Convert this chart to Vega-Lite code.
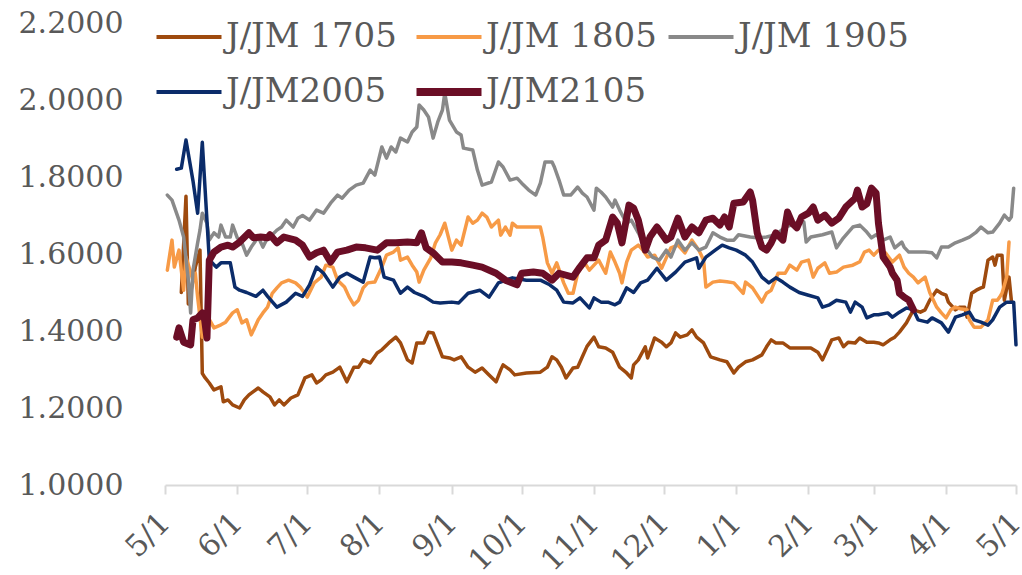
{
  "$schema": "https://vega.github.io/schema/vega-lite/v6.json",
  "width": 851,
  "height": 462,
  "autosize": {"type": "none"},
  "padding": {"left": 165, "top": 23, "right": 6, "bottom": 90},
  "background": "white",
  "config": {"view": {"stroke": null}},
  "data": {"values": [
{"series":"J/JM 1705","date":"2020-05-08","value":1.50},
{"series":"J/JM 1705","date":"2020-05-10","value":1.75},
{"series":"J/JM 1705","date":"2020-05-11","value":1.47},
{"series":"J/JM 1705","date":"2020-05-13","value":1.53},
{"series":"J/JM 1705","date":"2020-05-14","value":1.566},
{"series":"J/JM 1705","date":"2020-05-16","value":1.61},
{"series":"J/JM 1705","date":"2020-05-17","value":1.29},
{"series":"J/JM 1705","date":"2020-05-18","value":1.28},
{"series":"J/JM 1705","date":"2020-05-20","value":1.265},
{"series":"J/JM 1705","date":"2020-05-22","value":1.247},
{"series":"J/JM 1705","date":"2020-05-25","value":1.255},
{"series":"J/JM 1705","date":"2020-05-26","value":1.216},
{"series":"J/JM 1705","date":"2020-05-28","value":1.221},
{"series":"J/JM 1705","date":"2020-05-30","value":1.208},
{"series":"J/JM 1705","date":"2020-06-02","value":1.20},
{"series":"J/JM 1705","date":"2020-06-04","value":1.221},
{"series":"J/JM 1705","date":"2020-06-06","value":1.234},
{"series":"J/JM 1705","date":"2020-06-10","value":1.252},
{"series":"J/JM 1705","date":"2020-06-12","value":1.242},
{"series":"J/JM 1705","date":"2020-06-15","value":1.229},
{"series":"J/JM 1705","date":"2020-06-17","value":1.208},
{"series":"J/JM 1705","date":"2020-06-19","value":1.221},
{"series":"J/JM 1705","date":"2020-06-21","value":1.208},
{"series":"J/JM 1705","date":"2020-06-24","value":1.226},
{"series":"J/JM 1705","date":"2020-06-27","value":1.234},
{"series":"J/JM 1705","date":"2020-06-30","value":1.278},
{"series":"J/JM 1705","date":"2020-07-03","value":1.286},
{"series":"J/JM 1705","date":"2020-07-05","value":1.265},
{"series":"J/JM 1705","date":"2020-07-07","value":1.273},
{"series":"J/JM 1705","date":"2020-07-09","value":1.286},
{"series":"J/JM 1705","date":"2020-07-12","value":1.293},
{"series":"J/JM 1705","date":"2020-07-15","value":1.306},
{"series":"J/JM 1705","date":"2020-07-18","value":1.268},
{"series":"J/JM 1705","date":"2020-07-21","value":1.306},
{"series":"J/JM 1705","date":"2020-07-23","value":1.306},
{"series":"J/JM 1705","date":"2020-07-25","value":1.325},
{"series":"J/JM 1705","date":"2020-07-28","value":1.317},
{"series":"J/JM 1705","date":"2020-07-31","value":1.343},
{"series":"J/JM 1705","date":"2020-08-02","value":1.351},
{"series":"J/JM 1705","date":"2020-08-05","value":1.369},
{"series":"J/JM 1705","date":"2020-08-08","value":1.384},
{"series":"J/JM 1705","date":"2020-08-10","value":1.369},
{"series":"J/JM 1705","date":"2020-08-13","value":1.325},
{"series":"J/JM 1705","date":"2020-08-15","value":1.317},
{"series":"J/JM 1705","date":"2020-08-17","value":1.369},
{"series":"J/JM 1705","date":"2020-08-20","value":1.369},
{"series":"J/JM 1705","date":"2020-08-22","value":1.397},
{"series":"J/JM 1705","date":"2020-08-24","value":1.395},
{"series":"J/JM 1705","date":"2020-08-26","value":1.364},
{"series":"J/JM 1705","date":"2020-08-28","value":1.333},
{"series":"J/JM 1705","date":"2020-08-31","value":1.33},
{"series":"J/JM 1705","date":"2020-09-02","value":1.325},
{"series":"J/JM 1705","date":"2020-09-05","value":1.333},
{"series":"J/JM 1705","date":"2020-09-08","value":1.306},
{"series":"J/JM 1705","date":"2020-09-11","value":1.293},
{"series":"J/JM 1705","date":"2020-09-14","value":1.304},
{"series":"J/JM 1705","date":"2020-09-17","value":1.286},
{"series":"J/JM 1705","date":"2020-09-20","value":1.268},
{"series":"J/JM 1705","date":"2020-09-22","value":1.299},
{"series":"J/JM 1705","date":"2020-09-23","value":1.312},
{"series":"J/JM 1705","date":"2020-09-26","value":1.299},
{"series":"J/JM 1705","date":"2020-09-28","value":1.286},
{"series":"J/JM 1705","date":"2020-10-03","value":1.291},
{"series":"J/JM 1705","date":"2020-10-09","value":1.293},
{"series":"J/JM 1705","date":"2020-10-12","value":1.306},
{"series":"J/JM 1705","date":"2020-10-14","value":1.333},
{"series":"J/JM 1705","date":"2020-10-16","value":1.325},
{"series":"J/JM 1705","date":"2020-10-18","value":1.306},
{"series":"J/JM 1705","date":"2020-10-20","value":1.278},
{"series":"J/JM 1705","date":"2020-10-23","value":1.304},
{"series":"J/JM 1705","date":"2020-10-25","value":1.306},
{"series":"J/JM 1705","date":"2020-10-27","value":1.333},
{"series":"J/JM 1705","date":"2020-10-29","value":1.36},
{"series":"J/JM 1705","date":"2020-11-01","value":1.384},
{"series":"J/JM 1705","date":"2020-11-03","value":1.359},
{"series":"J/JM 1705","date":"2020-11-06","value":1.356},
{"series":"J/JM 1705","date":"2020-11-09","value":1.345},
{"series":"J/JM 1705","date":"2020-11-12","value":1.306},
{"series":"J/JM 1705","date":"2020-11-15","value":1.291},
{"series":"J/JM 1705","date":"2020-11-17","value":1.278},
{"series":"J/JM 1705","date":"2020-11-18","value":1.312},
{"series":"J/JM 1705","date":"2020-11-20","value":1.325},
{"series":"J/JM 1705","date":"2020-11-23","value":1.359},
{"series":"J/JM 1705","date":"2020-11-24","value":1.33},
{"series":"J/JM 1705","date":"2020-11-27","value":1.382},
{"series":"J/JM 1705","date":"2020-11-30","value":1.371},
{"series":"J/JM 1705","date":"2020-12-02","value":1.359},
{"series":"J/JM 1705","date":"2020-12-04","value":1.369},
{"series":"J/JM 1705","date":"2020-12-06","value":1.395},
{"series":"J/JM 1705","date":"2020-12-08","value":1.384},
{"series":"J/JM 1705","date":"2020-12-11","value":1.39},
{"series":"J/JM 1705","date":"2020-12-13","value":1.403},
{"series":"J/JM 1705","date":"2020-12-15","value":1.384},
{"series":"J/JM 1705","date":"2020-12-18","value":1.369},
{"series":"J/JM 1705","date":"2020-12-21","value":1.333},
{"series":"J/JM 1705","date":"2020-12-25","value":1.325},
{"series":"J/JM 1705","date":"2020-12-28","value":1.32},
{"series":"J/JM 1705","date":"2020-12-31","value":1.291},
{"series":"J/JM 1705","date":"2021-01-02","value":1.306},
{"series":"J/JM 1705","date":"2021-01-05","value":1.32},
{"series":"J/JM 1705","date":"2021-01-08","value":1.325},
{"series":"J/JM 1705","date":"2021-01-12","value":1.338},
{"series":"J/JM 1705","date":"2021-01-14","value":1.359},
{"series":"J/JM 1705","date":"2021-01-16","value":1.377},
{"series":"J/JM 1705","date":"2021-01-18","value":1.369},
{"series":"J/JM 1705","date":"2021-01-21","value":1.369},
{"series":"J/JM 1705","date":"2021-01-24","value":1.356},
{"series":"J/JM 1705","date":"2021-01-28","value":1.356},
{"series":"J/JM 1705","date":"2021-02-02","value":1.356},
{"series":"J/JM 1705","date":"2021-02-05","value":1.345},
{"series":"J/JM 1705","date":"2021-02-07","value":1.325},
{"series":"J/JM 1705","date":"2021-02-09","value":1.351},
{"series":"J/JM 1705","date":"2021-02-11","value":1.377},
{"series":"J/JM 1705","date":"2021-02-14","value":1.382},
{"series":"J/JM 1705","date":"2021-02-16","value":1.359},
{"series":"J/JM 1705","date":"2021-02-18","value":1.371},
{"series":"J/JM 1705","date":"2021-02-21","value":1.369},
{"series":"J/JM 1705","date":"2021-02-23","value":1.382},
{"series":"J/JM 1705","date":"2021-02-26","value":1.371},
{"series":"J/JM 1705","date":"2021-03-01","value":1.371},
{"series":"J/JM 1705","date":"2021-03-03","value":1.369},
{"series":"J/JM 1705","date":"2021-03-05","value":1.364},
{"series":"J/JM 1705","date":"2021-03-08","value":1.377},
{"series":"J/JM 1705","date":"2021-03-10","value":1.384},
{"series":"J/JM 1705","date":"2021-03-12","value":1.397},
{"series":"J/JM 1705","date":"2021-03-15","value":1.421},
{"series":"J/JM 1705","date":"2021-03-18","value":1.455},
{"series":"J/JM 1705","date":"2021-03-21","value":1.449},
{"series":"J/JM 1705","date":"2021-03-23","value":1.455},
{"series":"J/JM 1705","date":"2021-03-25","value":1.48},
{"series":"J/JM 1705","date":"2021-03-28","value":1.506},
{"series":"J/JM 1705","date":"2021-03-30","value":1.498},
{"series":"J/JM 1705","date":"2021-04-01","value":1.493},
{"series":"J/JM 1705","date":"2021-04-02","value":1.475},
{"series":"J/JM 1705","date":"2021-04-05","value":1.455},
{"series":"J/JM 1705","date":"2021-04-07","value":1.462},
{"series":"J/JM 1705","date":"2021-04-09","value":1.462},
{"series":"J/JM 1705","date":"2021-04-10","value":1.436},
{"series":"J/JM 1705","date":"2021-04-12","value":1.498},
{"series":"J/JM 1705","date":"2021-04-14","value":1.506},
{"series":"J/JM 1705","date":"2021-04-16","value":1.512},
{"series":"J/JM 1705","date":"2021-04-17","value":1.514},
{"series":"J/JM 1705","date":"2021-04-19","value":1.584},
{"series":"J/JM 1705","date":"2021-04-21","value":1.592},
{"series":"J/JM 1705","date":"2021-04-22","value":1.571},
{"series":"J/JM 1705","date":"2021-04-23","value":1.597},
{"series":"J/JM 1705","date":"2021-04-25","value":1.597},
{"series":"J/JM 1705","date":"2021-04-26","value":1.48},
{"series":"J/JM 1705","date":"2021-04-28","value":1.54},
{"series":"J/JM 1705","date":"2021-04-29","value":1.48},
{"series":"J/JM 1805","date":"2020-05-02","value":1.558},
{"series":"J/JM 1805","date":"2020-05-04","value":1.636},
{"series":"J/JM 1805","date":"2020-05-05","value":1.566},
{"series":"J/JM 1805","date":"2020-05-07","value":1.61},
{"series":"J/JM 1805","date":"2020-05-09","value":1.506},
{"series":"J/JM 1805","date":"2020-05-10","value":1.592},
{"series":"J/JM 1805","date":"2020-05-13","value":1.532},
{"series":"J/JM 1805","date":"2020-05-14","value":1.55},
{"series":"J/JM 1805","date":"2020-05-15","value":1.488},
{"series":"J/JM 1805","date":"2020-05-17","value":1.384},
{"series":"J/JM 1805","date":"2020-05-18","value":1.447},
{"series":"J/JM 1805","date":"2020-05-20","value":1.43},
{"series":"J/JM 1805","date":"2020-05-22","value":1.408},
{"series":"J/JM 1805","date":"2020-05-25","value":1.416},
{"series":"J/JM 1805","date":"2020-05-27","value":1.423},
{"series":"J/JM 1805","date":"2020-05-30","value":1.447},
{"series":"J/JM 1805","date":"2020-06-01","value":1.455},
{"series":"J/JM 1805","date":"2020-06-03","value":1.421},
{"series":"J/JM 1805","date":"2020-06-05","value":1.429},
{"series":"J/JM 1805","date":"2020-06-07","value":1.39},
{"series":"J/JM 1805","date":"2020-06-10","value":1.429},
{"series":"J/JM 1805","date":"2020-06-12","value":1.447},
{"series":"J/JM 1805","date":"2020-06-14","value":1.462},
{"series":"J/JM 1805","date":"2020-06-16","value":1.498},
{"series":"J/JM 1805","date":"2020-06-18","value":1.512},
{"series":"J/JM 1805","date":"2020-06-20","value":1.525},
{"series":"J/JM 1805","date":"2020-06-23","value":1.532},
{"series":"J/JM 1805","date":"2020-06-26","value":1.525},
{"series":"J/JM 1805","date":"2020-06-28","value":1.514},
{"series":"J/JM 1805","date":"2020-07-01","value":1.488},
{"series":"J/JM 1805","date":"2020-07-04","value":1.525},
{"series":"J/JM 1805","date":"2020-07-07","value":1.54},
{"series":"J/JM 1805","date":"2020-07-09","value":1.571},
{"series":"J/JM 1805","date":"2020-07-12","value":1.566},
{"series":"J/JM 1805","date":"2020-07-14","value":1.532},
{"series":"J/JM 1805","date":"2020-07-17","value":1.514},
{"series":"J/JM 1805","date":"2020-07-19","value":1.488},
{"series":"J/JM 1805","date":"2020-07-21","value":1.468},
{"series":"J/JM 1805","date":"2020-07-23","value":1.48},
{"series":"J/JM 1805","date":"2020-07-25","value":1.512},
{"series":"J/JM 1805","date":"2020-07-27","value":1.525},
{"series":"J/JM 1805","date":"2020-07-30","value":1.527},
{"series":"J/JM 1805","date":"2020-08-02","value":1.566},
{"series":"J/JM 1805","date":"2020-08-04","value":1.597},
{"series":"J/JM 1805","date":"2020-08-07","value":1.605},
{"series":"J/JM 1805","date":"2020-08-09","value":1.616},
{"series":"J/JM 1805","date":"2020-08-10","value":1.584},
{"series":"J/JM 1805","date":"2020-08-13","value":1.592},
{"series":"J/JM 1805","date":"2020-08-15","value":1.571},
{"series":"J/JM 1805","date":"2020-08-17","value":1.553},
{"series":"J/JM 1805","date":"2020-08-18","value":1.527},
{"series":"J/JM 1805","date":"2020-08-20","value":1.558},
{"series":"J/JM 1805","date":"2020-08-23","value":1.59},
{"series":"J/JM 1805","date":"2020-08-25","value":1.629},
{"series":"J/JM 1805","date":"2020-08-27","value":1.65},
{"series":"J/JM 1805","date":"2020-08-29","value":1.68},
{"series":"J/JM 1805","date":"2020-09-01","value":1.61},
{"series":"J/JM 1805","date":"2020-09-03","value":1.636},
{"series":"J/JM 1805","date":"2020-09-05","value":1.623},
{"series":"J/JM 1805","date":"2020-09-08","value":1.696},
{"series":"J/JM 1805","date":"2020-09-10","value":1.68},
{"series":"J/JM 1805","date":"2020-09-12","value":1.688},
{"series":"J/JM 1805","date":"2020-09-14","value":1.706},
{"series":"J/JM 1805","date":"2020-09-16","value":1.696},
{"series":"J/JM 1805","date":"2020-09-18","value":1.67},
{"series":"J/JM 1805","date":"2020-09-21","value":1.688},
{"series":"J/JM 1805","date":"2020-09-22","value":1.649},
{"series":"J/JM 1805","date":"2020-09-24","value":1.67},
{"series":"J/JM 1805","date":"2020-09-26","value":1.649},
{"series":"J/JM 1805","date":"2020-09-27","value":1.68},
{"series":"J/JM 1805","date":"2020-09-29","value":1.67},
{"series":"J/JM 1805","date":"2020-10-09","value":1.67},
{"series":"J/JM 1805","date":"2020-10-10","value":1.644},
{"series":"J/JM 1805","date":"2020-10-12","value":1.577},
{"series":"J/JM 1805","date":"2020-10-14","value":1.55},
{"series":"J/JM 1805","date":"2020-10-16","value":1.577},
{"series":"J/JM 1805","date":"2020-10-19","value":1.525},
{"series":"J/JM 1805","date":"2020-10-21","value":1.498},
{"series":"J/JM 1805","date":"2020-10-23","value":1.498},
{"series":"J/JM 1805","date":"2020-10-25","value":1.55},
{"series":"J/JM 1805","date":"2020-10-28","value":1.577},
{"series":"J/JM 1805","date":"2020-10-30","value":1.558},
{"series":"J/JM 1805","date":"2020-11-03","value":1.584},
{"series":"J/JM 1805","date":"2020-11-06","value":1.55},
{"series":"J/JM 1805","date":"2020-11-08","value":1.605},
{"series":"J/JM 1805","date":"2020-11-10","value":1.579},
{"series":"J/JM 1805","date":"2020-11-12","value":1.55},
{"series":"J/JM 1805","date":"2020-11-13","value":1.525},
{"series":"J/JM 1805","date":"2020-11-15","value":1.579},
{"series":"J/JM 1805","date":"2020-11-17","value":1.61},
{"series":"J/JM 1805","date":"2020-11-20","value":1.623},
{"series":"J/JM 1805","date":"2020-11-22","value":1.61},
{"series":"J/JM 1805","date":"2020-11-24","value":1.592},
{"series":"J/JM 1805","date":"2020-11-27","value":1.597},
{"series":"J/JM 1805","date":"2020-11-30","value":1.563},
{"series":"J/JM 1805","date":"2020-12-02","value":1.59},
{"series":"J/JM 1805","date":"2020-12-04","value":1.616},
{"series":"J/JM 1805","date":"2020-12-07","value":1.623},
{"series":"J/JM 1805","date":"2020-12-10","value":1.603},
{"series":"J/JM 1805","date":"2020-12-13","value":1.636},
{"series":"J/JM 1805","date":"2020-12-16","value":1.61},
{"series":"J/JM 1805","date":"2020-12-18","value":1.584},
{"series":"J/JM 1805","date":"2020-12-19","value":1.514},
{"series":"J/JM 1805","date":"2020-12-22","value":1.527},
{"series":"J/JM 1805","date":"2020-12-25","value":1.53},
{"series":"J/JM 1805","date":"2020-12-28","value":1.528},
{"series":"J/JM 1805","date":"2020-12-31","value":1.525},
{"series":"J/JM 1805","date":"2021-01-04","value":1.498},
{"series":"J/JM 1805","date":"2021-01-05","value":1.527},
{"series":"J/JM 1805","date":"2021-01-08","value":1.512},
{"series":"J/JM 1805","date":"2021-01-12","value":1.475},
{"series":"J/JM 1805","date":"2021-01-14","value":1.498},
{"series":"J/JM 1805","date":"2021-01-16","value":1.506},
{"series":"J/JM 1805","date":"2021-01-19","value":1.55},
{"series":"J/JM 1805","date":"2021-01-22","value":1.55},
{"series":"J/JM 1805","date":"2021-01-24","value":1.571},
{"series":"J/JM 1805","date":"2021-01-27","value":1.558},
{"series":"J/JM 1805","date":"2021-01-29","value":1.579},
{"series":"J/JM 1805","date":"2021-02-01","value":1.584},
{"series":"J/JM 1805","date":"2021-02-03","value":1.54},
{"series":"J/JM 1805","date":"2021-02-05","value":1.563},
{"series":"J/JM 1805","date":"2021-02-08","value":1.577},
{"series":"J/JM 1805","date":"2021-02-10","value":1.55},
{"series":"J/JM 1805","date":"2021-02-13","value":1.553},
{"series":"J/JM 1805","date":"2021-02-16","value":1.566},
{"series":"J/JM 1805","date":"2021-02-20","value":1.571},
{"series":"J/JM 1805","date":"2021-02-23","value":1.58},
{"series":"J/JM 1805","date":"2021-02-25","value":1.605},
{"series":"J/JM 1805","date":"2021-02-27","value":1.61},
{"series":"J/JM 1805","date":"2021-03-01","value":1.597},
{"series":"J/JM 1805","date":"2021-03-03","value":1.61},
{"series":"J/JM 1805","date":"2021-03-06","value":1.603},
{"series":"J/JM 1805","date":"2021-03-09","value":1.579},
{"series":"J/JM 1805","date":"2021-03-12","value":1.597},
{"series":"J/JM 1805","date":"2021-03-14","value":1.566},
{"series":"J/JM 1805","date":"2021-03-16","value":1.55},
{"series":"J/JM 1805","date":"2021-03-18","value":1.54},
{"series":"J/JM 1805","date":"2021-03-20","value":1.525},
{"series":"J/JM 1805","date":"2021-03-23","value":1.54},
{"series":"J/JM 1805","date":"2021-03-25","value":1.50},
{"series":"J/JM 1805","date":"2021-03-28","value":1.462},
{"series":"J/JM 1805","date":"2021-03-30","value":1.447},
{"series":"J/JM 1805","date":"2021-04-01","value":1.434},
{"series":"J/JM 1805","date":"2021-04-03","value":1.455},
{"series":"J/JM 1805","date":"2021-04-05","value":1.462},
{"series":"J/JM 1805","date":"2021-04-07","value":1.458},
{"series":"J/JM 1805","date":"2021-04-10","value":1.455},
{"series":"J/JM 1805","date":"2021-04-11","value":1.429},
{"series":"J/JM 1805","date":"2021-04-13","value":1.41},
{"series":"J/JM 1805","date":"2021-04-16","value":1.41},
{"series":"J/JM 1805","date":"2021-04-19","value":1.429},
{"series":"J/JM 1805","date":"2021-04-21","value":1.48},
{"series":"J/JM 1805","date":"2021-04-23","value":1.48},
{"series":"J/JM 1805","date":"2021-04-24","value":1.488},
{"series":"J/JM 1805","date":"2021-04-25","value":1.498},
{"series":"J/JM 1805","date":"2021-04-27","value":1.54},
{"series":"J/JM 1805","date":"2021-04-28","value":1.631},
{"series":"J/JM 1905","date":"2020-05-02","value":1.753},
{"series":"J/JM 1905","date":"2020-05-04","value":1.74},
{"series":"J/JM 1905","date":"2020-05-07","value":1.688},
{"series":"J/JM 1905","date":"2020-05-09","value":1.644},
{"series":"J/JM 1905","date":"2020-05-11","value":1.532},
{"series":"J/JM 1905","date":"2020-05-12","value":1.447},
{"series":"J/JM 1905","date":"2020-05-13","value":1.558},
{"series":"J/JM 1905","date":"2020-05-15","value":1.629},
{"series":"J/JM 1905","date":"2020-05-16","value":1.662},
{"series":"J/JM 1905","date":"2020-05-17","value":1.706},
{"series":"J/JM 1905","date":"2020-05-19","value":1.68},
{"series":"J/JM 1905","date":"2020-05-20","value":1.636},
{"series":"J/JM 1905","date":"2020-05-22","value":1.655},
{"series":"J/JM 1905","date":"2020-05-24","value":1.644},
{"series":"J/JM 1905","date":"2020-05-25","value":1.675},
{"series":"J/JM 1905","date":"2020-05-27","value":1.644},
{"series":"J/JM 1905","date":"2020-05-29","value":1.644},
{"series":"J/JM 1905","date":"2020-05-30","value":1.675},
{"series":"J/JM 1905","date":"2020-06-01","value":1.642},
{"series":"J/JM 1905","date":"2020-06-03","value":1.629},
{"series":"J/JM 1905","date":"2020-06-05","value":1.597},
{"series":"J/JM 1905","date":"2020-06-07","value":1.618},
{"series":"J/JM 1905","date":"2020-06-10","value":1.644},
{"series":"J/JM 1905","date":"2020-06-12","value":1.618},
{"series":"J/JM 1905","date":"2020-06-14","value":1.642},
{"series":"J/JM 1905","date":"2020-06-16","value":1.65},
{"series":"J/JM 1905","date":"2020-06-18","value":1.662},
{"series":"J/JM 1905","date":"2020-06-20","value":1.67},
{"series":"J/JM 1905","date":"2020-06-22","value":1.688},
{"series":"J/JM 1905","date":"2020-06-25","value":1.67},
{"series":"J/JM 1905","date":"2020-06-27","value":1.693},
{"series":"J/JM 1905","date":"2020-06-29","value":1.70},
{"series":"J/JM 1905","date":"2020-07-02","value":1.688},
{"series":"J/JM 1905","date":"2020-07-05","value":1.714},
{"series":"J/JM 1905","date":"2020-07-08","value":1.706},
{"series":"J/JM 1905","date":"2020-07-11","value":1.732},
{"series":"J/JM 1905","date":"2020-07-14","value":1.753},
{"series":"J/JM 1905","date":"2020-07-16","value":1.745},
{"series":"J/JM 1905","date":"2020-07-19","value":1.766},
{"series":"J/JM 1905","date":"2020-07-22","value":1.779},
{"series":"J/JM 1905","date":"2020-07-25","value":1.784},
{"series":"J/JM 1905","date":"2020-07-28","value":1.818},
{"series":"J/JM 1905","date":"2020-07-30","value":1.805},
{"series":"J/JM 1905","date":"2020-08-02","value":1.878},
{"series":"J/JM 1905","date":"2020-08-04","value":1.849},
{"series":"J/JM 1905","date":"2020-08-06","value":1.878},
{"series":"J/JM 1905","date":"2020-08-08","value":1.865},
{"series":"J/JM 1905","date":"2020-08-10","value":1.901},
{"series":"J/JM 1905","date":"2020-08-13","value":1.891},
{"series":"J/JM 1905","date":"2020-08-15","value":1.917},
{"series":"J/JM 1905","date":"2020-08-17","value":1.93},
{"series":"J/JM 1905","date":"2020-08-18","value":1.987},
{"series":"J/JM 1905","date":"2020-08-20","value":1.974},
{"series":"J/JM 1905","date":"2020-08-22","value":1.956},
{"series":"J/JM 1905","date":"2020-08-24","value":1.901},
{"series":"J/JM 1905","date":"2020-08-26","value":1.943},
{"series":"J/JM 1905","date":"2020-08-28","value":1.974},
{"series":"J/JM 1905","date":"2020-08-29","value":2.018},
{"series":"J/JM 1905","date":"2020-08-31","value":1.948},
{"series":"J/JM 1905","date":"2020-09-03","value":1.917},
{"series":"J/JM 1905","date":"2020-09-05","value":1.909},
{"series":"J/JM 1905","date":"2020-09-06","value":1.875},
{"series":"J/JM 1905","date":"2020-09-10","value":1.87},
{"series":"J/JM 1905","date":"2020-09-12","value":1.818},
{"series":"J/JM 1905","date":"2020-09-14","value":1.779},
{"series":"J/JM 1905","date":"2020-09-18","value":1.787},
{"series":"J/JM 1905","date":"2020-09-21","value":1.839},
{"series":"J/JM 1905","date":"2020-09-23","value":1.826},
{"series":"J/JM 1905","date":"2020-09-26","value":1.792},
{"series":"J/JM 1905","date":"2020-09-29","value":1.797},
{"series":"J/JM 1905","date":"2020-10-01","value":1.784},
{"series":"J/JM 1905","date":"2020-10-04","value":1.766},
{"series":"J/JM 1905","date":"2020-10-07","value":1.753},
{"series":"J/JM 1905","date":"2020-10-09","value":1.784},
{"series":"J/JM 1905","date":"2020-10-11","value":1.839},
{"series":"J/JM 1905","date":"2020-10-14","value":1.839},
{"series":"J/JM 1905","date":"2020-10-15","value":1.826},
{"series":"J/JM 1905","date":"2020-10-17","value":1.792},
{"series":"J/JM 1905","date":"2020-10-19","value":1.753},
{"series":"J/JM 1905","date":"2020-10-22","value":1.753},
{"series":"J/JM 1905","date":"2020-10-25","value":1.774},
{"series":"J/JM 1905","date":"2020-10-27","value":1.758},
{"series":"J/JM 1905","date":"2020-10-29","value":1.748},
{"series":"J/JM 1905","date":"2020-11-01","value":1.714},
{"series":"J/JM 1905","date":"2020-11-02","value":1.771},
{"series":"J/JM 1905","date":"2020-11-04","value":1.761},
{"series":"J/JM 1905","date":"2020-11-06","value":1.748},
{"series":"J/JM 1905","date":"2020-11-09","value":1.722},
{"series":"J/JM 1905","date":"2020-11-10","value":1.74},
{"series":"J/JM 1905","date":"2020-11-12","value":1.714},
{"series":"J/JM 1905","date":"2020-11-15","value":1.68},
{"series":"J/JM 1905","date":"2020-11-17","value":1.688},
{"series":"J/JM 1905","date":"2020-11-20","value":1.655},
{"series":"J/JM 1905","date":"2020-11-23","value":1.618},
{"series":"J/JM 1905","date":"2020-11-26","value":1.592},
{"series":"J/JM 1905","date":"2020-11-29","value":1.584},
{"series":"J/JM 1905","date":"2020-12-02","value":1.61},
{"series":"J/JM 1905","date":"2020-12-04","value":1.592},
{"series":"J/JM 1905","date":"2020-12-07","value":1.636},
{"series":"J/JM 1905","date":"2020-12-10","value":1.61},
{"series":"J/JM 1905","date":"2020-12-13","value":1.629},
{"series":"J/JM 1905","date":"2020-12-16","value":1.61},
{"series":"J/JM 1905","date":"2020-12-19","value":1.618},
{"series":"J/JM 1905","date":"2020-12-22","value":1.655},
{"series":"J/JM 1905","date":"2020-12-25","value":1.644},
{"series":"J/JM 1905","date":"2020-12-28","value":1.636},
{"series":"J/JM 1905","date":"2020-12-31","value":1.636},
{"series":"J/JM 1905","date":"2021-01-02","value":1.65},
{"series":"J/JM 1905","date":"2021-01-07","value":1.644},
{"series":"J/JM 1905","date":"2021-01-10","value":1.642},
{"series":"J/JM 1905","date":"2021-01-14","value":1.644},
{"series":"J/JM 1905","date":"2021-01-18","value":1.65},
{"series":"J/JM 1905","date":"2021-01-22","value":1.67},
{"series":"J/JM 1905","date":"2021-01-27","value":1.68},
{"series":"J/JM 1905","date":"2021-01-30","value":1.683},
{"series":"J/JM 1905","date":"2021-01-31","value":1.631},
{"series":"J/JM 1905","date":"2021-02-02","value":1.644},
{"series":"J/JM 1905","date":"2021-02-07","value":1.65},
{"series":"J/JM 1905","date":"2021-02-11","value":1.657},
{"series":"J/JM 1905","date":"2021-02-13","value":1.616},
{"series":"J/JM 1905","date":"2021-02-16","value":1.642},
{"series":"J/JM 1905","date":"2021-02-20","value":1.67},
{"series":"J/JM 1905","date":"2021-02-23","value":1.675},
{"series":"J/JM 1905","date":"2021-02-26","value":1.657},
{"series":"J/JM 1905","date":"2021-02-28","value":1.642},
{"series":"J/JM 1905","date":"2021-03-02","value":1.65},
{"series":"J/JM 1905","date":"2021-03-05","value":1.636},
{"series":"J/JM 1905","date":"2021-03-08","value":1.644},
{"series":"J/JM 1905","date":"2021-03-10","value":1.616},
{"series":"J/JM 1905","date":"2021-03-13","value":1.631},
{"series":"J/JM 1905","date":"2021-03-14","value":1.618},
{"series":"J/JM 1905","date":"2021-03-16","value":1.605},
{"series":"J/JM 1905","date":"2021-03-20","value":1.605},
{"series":"J/JM 1905","date":"2021-03-23","value":1.605},
{"series":"J/JM 1905","date":"2021-03-26","value":1.603},
{"series":"J/JM 1905","date":"2021-03-28","value":1.59},
{"series":"J/JM 1905","date":"2021-03-30","value":1.618},
{"series":"J/JM 1905","date":"2021-04-02","value":1.618},
{"series":"J/JM 1905","date":"2021-04-05","value":1.629},
{"series":"J/JM 1905","date":"2021-04-08","value":1.636},
{"series":"J/JM 1905","date":"2021-04-11","value":1.644},
{"series":"J/JM 1905","date":"2021-04-14","value":1.657},
{"series":"J/JM 1905","date":"2021-04-16","value":1.67},
{"series":"J/JM 1905","date":"2021-04-19","value":1.655},
{"series":"J/JM 1905","date":"2021-04-21","value":1.657},
{"series":"J/JM 1905","date":"2021-04-24","value":1.68},
{"series":"J/JM 1905","date":"2021-04-26","value":1.701},
{"series":"J/JM 1905","date":"2021-04-28","value":1.688},
{"series":"J/JM 1905","date":"2021-04-29","value":1.696},
{"series":"J/JM 1905","date":"2021-04-30","value":1.771},
{"series":"J/JM2005","date":"2020-05-06","value":1.82},
{"series":"J/JM2005","date":"2020-05-08","value":1.823},
{"series":"J/JM2005","date":"2020-05-10","value":1.896},
{"series":"J/JM2005","date":"2020-05-13","value":1.79},
{"series":"J/JM2005","date":"2020-05-15","value":1.706},
{"series":"J/JM2005","date":"2020-05-17","value":1.89},
{"series":"J/JM2005","date":"2020-05-20","value":1.585},
{"series":"J/JM2005","date":"2020-05-23","value":1.566},
{"series":"J/JM2005","date":"2020-05-25","value":1.577},
{"series":"J/JM2005","date":"2020-05-29","value":1.577},
{"series":"J/JM2005","date":"2020-05-31","value":1.514},
{"series":"J/JM2005","date":"2020-06-02","value":1.506},
{"series":"J/JM2005","date":"2020-06-05","value":1.50},
{"series":"J/JM2005","date":"2020-06-09","value":1.49},
{"series":"J/JM2005","date":"2020-06-12","value":1.506},
{"series":"J/JM2005","date":"2020-06-14","value":1.49},
{"series":"J/JM2005","date":"2020-06-18","value":1.462},
{"series":"J/JM2005","date":"2020-06-22","value":1.475},
{"series":"J/JM2005","date":"2020-06-26","value":1.498},
{"series":"J/JM2005","date":"2020-06-29","value":1.49},
{"series":"J/JM2005","date":"2020-07-02","value":1.52},
{"series":"J/JM2005","date":"2020-07-05","value":1.566},
{"series":"J/JM2005","date":"2020-07-08","value":1.55},
{"series":"J/JM2005","date":"2020-07-12","value":1.514},
{"series":"J/JM2005","date":"2020-07-15","value":1.54},
{"series":"J/JM2005","date":"2020-07-18","value":1.55},
{"series":"J/JM2005","date":"2020-07-21","value":1.54},
{"series":"J/JM2005","date":"2020-07-25","value":1.527},
{"series":"J/JM2005","date":"2020-07-28","value":1.592},
{"series":"J/JM2005","date":"2020-07-30","value":1.59},
{"series":"J/JM2005","date":"2020-08-01","value":1.592},
{"series":"J/JM2005","date":"2020-08-03","value":1.54},
{"series":"J/JM2005","date":"2020-08-07","value":1.532},
{"series":"J/JM2005","date":"2020-08-10","value":1.498},
{"series":"J/JM2005","date":"2020-08-13","value":1.514},
{"series":"J/JM2005","date":"2020-08-16","value":1.50},
{"series":"J/JM2005","date":"2020-08-20","value":1.49},
{"series":"J/JM2005","date":"2020-08-24","value":1.475},
{"series":"J/JM2005","date":"2020-08-27","value":1.473},
{"series":"J/JM2005","date":"2020-09-01","value":1.475},
{"series":"J/JM2005","date":"2020-09-04","value":1.473},
{"series":"J/JM2005","date":"2020-09-08","value":1.498},
{"series":"J/JM2005","date":"2020-09-13","value":1.506},
{"series":"J/JM2005","date":"2020-09-17","value":1.488},
{"series":"J/JM2005","date":"2020-09-21","value":1.525},
{"series":"J/JM2005","date":"2020-09-27","value":1.538},
{"series":"J/JM2005","date":"2020-10-03","value":1.532},
{"series":"J/JM2005","date":"2020-10-09","value":1.532},
{"series":"J/JM2005","date":"2020-10-13","value":1.52},
{"series":"J/JM2005","date":"2020-10-16","value":1.506},
{"series":"J/JM2005","date":"2020-10-19","value":1.475},
{"series":"J/JM2005","date":"2020-10-23","value":1.473},
{"series":"J/JM2005","date":"2020-10-26","value":1.486},
{"series":"J/JM2005","date":"2020-10-30","value":1.46},
{"series":"J/JM2005","date":"2020-11-01","value":1.486},
{"series":"J/JM2005","date":"2020-11-04","value":1.475},
{"series":"J/JM2005","date":"2020-11-07","value":1.475},
{"series":"J/JM2005","date":"2020-11-10","value":1.468},
{"series":"J/JM2005","date":"2020-11-12","value":1.475},
{"series":"J/JM2005","date":"2020-11-15","value":1.512},
{"series":"J/JM2005","date":"2020-11-18","value":1.50},
{"series":"J/JM2005","date":"2020-11-21","value":1.525},
{"series":"J/JM2005","date":"2020-11-24","value":1.532},
{"series":"J/JM2005","date":"2020-11-28","value":1.563},
{"series":"J/JM2005","date":"2020-12-02","value":1.532},
{"series":"J/JM2005","date":"2020-12-06","value":1.553},
{"series":"J/JM2005","date":"2020-12-10","value":1.579},
{"series":"J/JM2005","date":"2020-12-15","value":1.59},
{"series":"J/JM2005","date":"2020-12-16","value":1.563},
{"series":"J/JM2005","date":"2020-12-19","value":1.592},
{"series":"J/JM2005","date":"2020-12-23","value":1.61},
{"series":"J/JM2005","date":"2020-12-26","value":1.623},
{"series":"J/JM2005","date":"2020-12-29","value":1.616},
{"series":"J/JM2005","date":"2021-01-01","value":1.61},
{"series":"J/JM2005","date":"2021-01-05","value":1.597},
{"series":"J/JM2005","date":"2021-01-08","value":1.579},
{"series":"J/JM2005","date":"2021-01-12","value":1.54},
{"series":"J/JM2005","date":"2021-01-15","value":1.525},
{"series":"J/JM2005","date":"2021-01-18","value":1.538},
{"series":"J/JM2005","date":"2021-01-21","value":1.527},
{"series":"J/JM2005","date":"2021-01-24","value":1.514},
{"series":"J/JM2005","date":"2021-01-28","value":1.50},
{"series":"J/JM2005","date":"2021-02-01","value":1.493},
{"series":"J/JM2005","date":"2021-02-05","value":1.486},
{"series":"J/JM2005","date":"2021-02-07","value":1.462},
{"series":"J/JM2005","date":"2021-02-10","value":1.468},
{"series":"J/JM2005","date":"2021-02-13","value":1.48},
{"series":"J/JM2005","date":"2021-02-17","value":1.475},
{"series":"J/JM2005","date":"2021-02-19","value":1.449},
{"series":"J/JM2005","date":"2021-02-21","value":1.475},
{"series":"J/JM2005","date":"2021-02-24","value":1.462},
{"series":"J/JM2005","date":"2021-02-26","value":1.434},
{"series":"J/JM2005","date":"2021-03-01","value":1.442},
{"series":"J/JM2005","date":"2021-03-03","value":1.442},
{"series":"J/JM2005","date":"2021-03-07","value":1.447},
{"series":"J/JM2005","date":"2021-03-09","value":1.436},
{"series":"J/JM2005","date":"2021-03-12","value":1.449},
{"series":"J/JM2005","date":"2021-03-15","value":1.46},
{"series":"J/JM2005","date":"2021-03-18","value":1.455},
{"series":"J/JM2005","date":"2021-03-20","value":1.429},
{"series":"J/JM2005","date":"2021-03-24","value":1.423},
{"series":"J/JM2005","date":"2021-03-26","value":1.434},
{"series":"J/JM2005","date":"2021-03-30","value":1.421},
{"series":"J/JM2005","date":"2021-04-02","value":1.397},
{"series":"J/JM2005","date":"2021-04-05","value":1.436},
{"series":"J/JM2005","date":"2021-04-08","value":1.442},
{"series":"J/JM2005","date":"2021-04-11","value":1.449},
{"series":"J/JM2005","date":"2021-04-13","value":1.429},
{"series":"J/JM2005","date":"2021-04-16","value":1.423},
{"series":"J/JM2005","date":"2021-04-19","value":1.415},
{"series":"J/JM2005","date":"2021-04-21","value":1.429},
{"series":"J/JM2005","date":"2021-04-24","value":1.462},
{"series":"J/JM2005","date":"2021-04-27","value":1.475},
{"series":"J/JM2005","date":"2021-04-30","value":1.475},
{"series":"J/JM2005","date":"2021-05-01","value":1.364},
{"series":"J/JM2105","date":"2020-05-06","value":1.384},
{"series":"J/JM2105","date":"2020-05-07","value":1.408},
{"series":"J/JM2105","date":"2020-05-09","value":1.371},
{"series":"J/JM2105","date":"2020-05-12","value":1.364},
{"series":"J/JM2105","date":"2020-05-13","value":1.429},
{"series":"J/JM2105","date":"2020-05-15","value":1.434},
{"series":"J/JM2105","date":"2020-05-17","value":1.447},
{"series":"J/JM2105","date":"2020-05-18","value":1.429},
{"series":"J/JM2105","date":"2020-05-19","value":1.382},
{"series":"J/JM2105","date":"2020-05-20","value":1.584},
{"series":"J/JM2105","date":"2020-05-22","value":1.605},
{"series":"J/JM2105","date":"2020-05-25","value":1.618},
{"series":"J/JM2105","date":"2020-05-28","value":1.623},
{"series":"J/JM2105","date":"2020-05-30","value":1.618},
{"series":"J/JM2105","date":"2020-06-02","value":1.631},
{"series":"J/JM2105","date":"2020-06-06","value":1.655},
{"series":"J/JM2105","date":"2020-06-08","value":1.642},
{"series":"J/JM2105","date":"2020-06-11","value":1.644},
{"series":"J/JM2105","date":"2020-06-14","value":1.642},
{"series":"J/JM2105","date":"2020-06-15","value":1.65},
{"series":"J/JM2105","date":"2020-06-18","value":1.629},
{"series":"J/JM2105","date":"2020-06-21","value":1.644},
{"series":"J/JM2105","date":"2020-06-26","value":1.636},
{"series":"J/JM2105","date":"2020-06-29","value":1.623},
{"series":"J/JM2105","date":"2020-07-02","value":1.592},
{"series":"J/JM2105","date":"2020-07-05","value":1.603},
{"series":"J/JM2105","date":"2020-07-08","value":1.61},
{"series":"J/JM2105","date":"2020-07-11","value":1.579},
{"series":"J/JM2105","date":"2020-07-14","value":1.605},
{"series":"J/JM2105","date":"2020-07-18","value":1.61},
{"series":"J/JM2105","date":"2020-07-22","value":1.618},
{"series":"J/JM2105","date":"2020-07-26","value":1.616},
{"series":"J/JM2105","date":"2020-07-31","value":1.61},
{"series":"J/JM2105","date":"2020-08-04","value":1.629},
{"series":"J/JM2105","date":"2020-08-08","value":1.629},
{"series":"J/JM2105","date":"2020-08-13","value":1.631},
{"series":"J/JM2105","date":"2020-08-17","value":1.629},
{"series":"J/JM2105","date":"2020-08-19","value":1.655},
{"series":"J/JM2105","date":"2020-08-21","value":1.616},
{"series":"J/JM2105","date":"2020-08-24","value":1.603},
{"series":"J/JM2105","date":"2020-08-28","value":1.579},
{"series":"J/JM2105","date":"2020-09-01","value":1.579},
{"series":"J/JM2105","date":"2020-09-05","value":1.577},
{"series":"J/JM2105","date":"2020-09-10","value":1.571},
{"series":"J/JM2105","date":"2020-09-14","value":1.566},
{"series":"J/JM2105","date":"2020-09-20","value":1.55},
{"series":"J/JM2105","date":"2020-09-24","value":1.532},
{"series":"J/JM2105","date":"2020-09-29","value":1.52},
{"series":"J/JM2105","date":"2020-10-01","value":1.55},
{"series":"J/JM2105","date":"2020-10-06","value":1.553},
{"series":"J/JM2105","date":"2020-10-10","value":1.55},
{"series":"J/JM2105","date":"2020-10-14","value":1.532},
{"series":"J/JM2105","date":"2020-10-17","value":1.55},
{"series":"J/JM2105","date":"2020-10-23","value":1.54},
{"series":"J/JM2105","date":"2020-10-26","value":1.566},
{"series":"J/JM2105","date":"2020-10-29","value":1.59},
{"series":"J/JM2105","date":"2020-11-01","value":1.59},
{"series":"J/JM2105","date":"2020-11-03","value":1.623},
{"series":"J/JM2105","date":"2020-11-06","value":1.636},
{"series":"J/JM2105","date":"2020-11-09","value":1.696},
{"series":"J/JM2105","date":"2020-11-11","value":1.68},
{"series":"J/JM2105","date":"2020-11-13","value":1.629},
{"series":"J/JM2105","date":"2020-11-16","value":1.727},
{"series":"J/JM2105","date":"2020-11-18","value":1.719},
{"series":"J/JM2105","date":"2020-11-20","value":1.688},
{"series":"J/JM2105","date":"2020-11-23","value":1.61},
{"series":"J/JM2105","date":"2020-11-25","value":1.644},
{"series":"J/JM2105","date":"2020-11-28","value":1.67},
{"series":"J/JM2105","date":"2020-12-02","value":1.636},
{"series":"J/JM2105","date":"2020-12-04","value":1.644},
{"series":"J/JM2105","date":"2020-12-07","value":1.693},
{"series":"J/JM2105","date":"2020-12-10","value":1.644},
{"series":"J/JM2105","date":"2020-12-13","value":1.67},
{"series":"J/JM2105","date":"2020-12-16","value":1.655},
{"series":"J/JM2105","date":"2020-12-19","value":1.688},
{"series":"J/JM2105","date":"2020-12-22","value":1.693},
{"series":"J/JM2105","date":"2020-12-25","value":1.675},
{"series":"J/JM2105","date":"2020-12-27","value":1.696},
{"series":"J/JM2105","date":"2020-12-29","value":1.67},
{"series":"J/JM2105","date":"2020-12-31","value":1.732},
{"series":"J/JM2105","date":"2021-01-04","value":1.735},
{"series":"J/JM2105","date":"2021-01-07","value":1.761},
{"series":"J/JM2105","date":"2021-01-08","value":1.74},
{"series":"J/JM2105","date":"2021-01-10","value":1.655},
{"series":"J/JM2105","date":"2021-01-12","value":1.618},
{"series":"J/JM2105","date":"2021-01-14","value":1.61},
{"series":"J/JM2105","date":"2021-01-16","value":1.629},
{"series":"J/JM2105","date":"2021-01-18","value":1.655},
{"series":"J/JM2105","date":"2021-01-21","value":1.636},
{"series":"J/JM2105","date":"2021-01-23","value":1.709},
{"series":"J/JM2105","date":"2021-01-25","value":1.68},
{"series":"J/JM2105","date":"2021-01-27","value":1.668},
{"series":"J/JM2105","date":"2021-01-29","value":1.696},
{"series":"J/JM2105","date":"2021-02-01","value":1.706},
{"series":"J/JM2105","date":"2021-02-03","value":1.722},
{"series":"J/JM2105","date":"2021-02-05","value":1.688},
{"series":"J/JM2105","date":"2021-02-08","value":1.701},
{"series":"J/JM2105","date":"2021-02-11","value":1.68},
{"series":"J/JM2105","date":"2021-02-14","value":1.693},
{"series":"J/JM2105","date":"2021-02-17","value":1.722},
{"series":"J/JM2105","date":"2021-02-21","value":1.745},
{"series":"J/JM2105","date":"2021-02-22","value":1.766},
{"series":"J/JM2105","date":"2021-02-24","value":1.722},
{"series":"J/JM2105","date":"2021-02-26","value":1.73},
{"series":"J/JM2105","date":"2021-02-28","value":1.771},
{"series":"J/JM2105","date":"2021-03-02","value":1.758},
{"series":"J/JM2105","date":"2021-03-03","value":1.68},
{"series":"J/JM2105","date":"2021-03-05","value":1.592},
{"series":"J/JM2105","date":"2021-03-08","value":1.566},
{"series":"J/JM2105","date":"2021-03-09","value":1.55},
{"series":"J/JM2105","date":"2021-03-11","value":1.532},
{"series":"J/JM2105","date":"2021-03-12","value":1.498},
{"series":"J/JM2105","date":"2021-03-14","value":1.488},
{"series":"J/JM2105","date":"2021-03-16","value":1.48},
{"series":"J/JM2105","date":"2021-03-18","value":1.455}
  ]},
  "mark": {"type": "line", "strokeJoin": "round", "strokeCap": "round"},
  "encoding": {
    "x": {
      "field": "date", "type": "temporal",
      "scale": {"type": "utc", "domain": [{"year": 2020, "month": 5, "date": 1, "utc": true}, {"year": 2021, "month": 5, "date": 1, "utc": true}]},
      "axis": {
        "title": null, "grid": false,
        "values": [
          {"year": 2020, "month": 5, "date": 1, "utc": true},
          {"year": 2020, "month": 6, "date": 1, "utc": true},
          {"year": 2020, "month": 7, "date": 1, "utc": true},
          {"year": 2020, "month": 8, "date": 1, "utc": true},
          {"year": 2020, "month": 9, "date": 1, "utc": true},
          {"year": 2020, "month": 10, "date": 1, "utc": true},
          {"year": 2020, "month": 11, "date": 1, "utc": true},
          {"year": 2020, "month": 12, "date": 1, "utc": true},
          {"year": 2021, "month": 1, "date": 1, "utc": true},
          {"year": 2021, "month": 2, "date": 1, "utc": true},
          {"year": 2021, "month": 3, "date": 1, "utc": true},
          {"year": 2021, "month": 4, "date": 1, "utc": true},
          {"year": 2021, "month": 5, "date": 1, "utc": true}
        ],
        "labelExpr": "utcFormat(datum.value, '%-m/%-d')",
        "labelAngle": -45, "labelAlign": "right", "labelBaseline": "middle",
        "labelFont": "DejaVu Serif", "labelFontSize": 30, "labelColor": "#595959",
        "labelPadding": 24, "labelOverlap": false, "labelFlush": false, "labelBound": false,
        "domainColor": "#D9D9D9", "domainWidth": 2, "tickColor": "#D9D9D9", "tickWidth": 2, "tickSize": 9
      }
    },
    "y": {
      "field": "value", "type": "quantitative",
      "scale": {"domain": [1, 2.2], "nice": false, "zero": false},
      "axis": {
        "title": null, "grid": false, "domain": false, "ticks": false,
        "values": [1, 1.2, 1.4, 1.6, 1.8, 2.0, 2.2],
        "format": ".4f", "labelFont": "DejaVu Serif", "labelFontSize": 30, "labelColor": "#595959", "labelPadding": 42
      }
    },
    "color": {
      "field": "series", "type": "nominal",
      "scale": {"domain": ["J/JM 1705", "J/JM 1805", "J/JM 1905", "J/JM2005", "J/JM2105"], "range": ["#9E4A0E", "#F79A46", "#898989", "#0B2C6A", "#6B0E26"]},
      "legend": {
        "title": null, "orient": "none", "legendX": 7, "legendY": -3, "direction": "horizontal", "columns": 3,
        "symbolType": "stroke", "symbolSize": 4225,
        "symbolStrokeWidth": {"expr": "datum.value === 'J/JM2105' ? 8 : 4"},
        "labelFont": "DejaVu Serif", "labelFontSize": 34, "labelColor": "#595959", "labelOffset": 20,
        "columnPadding": 3, "rowPadding": 21, "labelLimit": 400
      }
    },
    "strokeWidth": {"condition": {"test": "datum.series === 'J/JM2105'", "value": 7}, "value": 3.5}
  }
}
